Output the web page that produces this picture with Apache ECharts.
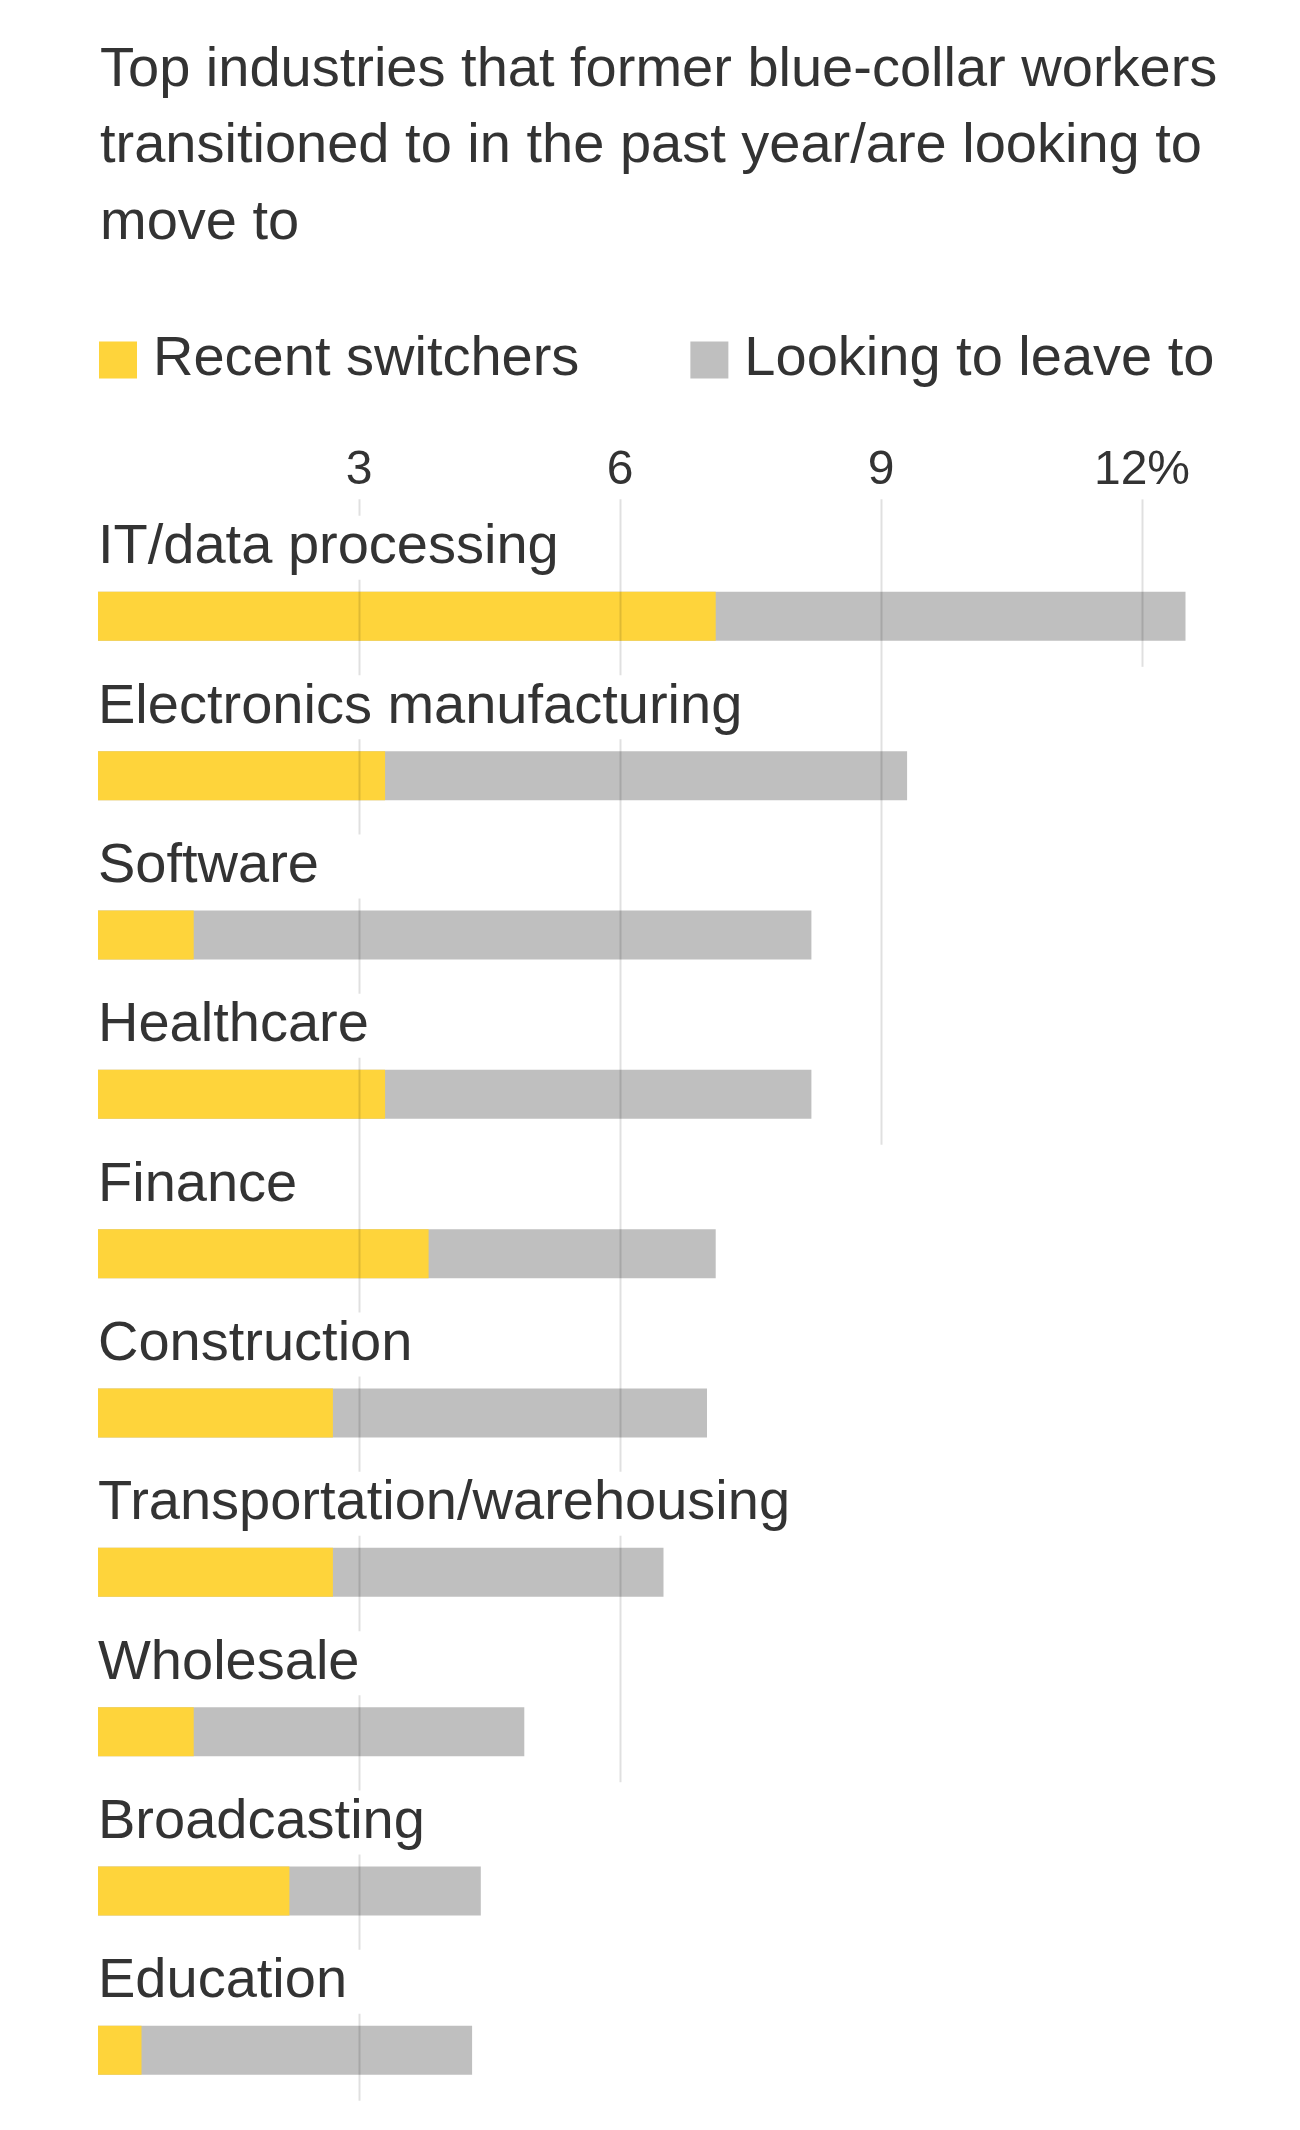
<!DOCTYPE html>
<html>
<head>
<meta charset="utf-8">
<script src="https://cdn.jsdelivr.net/npm/echarts@6/dist/echarts.min.js"></script>
<style>
  html, body { margin: 0; padding: 0; background: #ffffff; }
  #chart { width: 1300px; height: 2130px; }
</style>
</head>
<body>
<div id="chart"></div>
<script>
const titleText = 'Top industries that former blue-collar workers\ntransitioned to in the past year/are looking to\nmove to';
const categories = ['IT/data processing', 'Electronics manufacturing', 'Software', 'Healthcare', 'Finance',
  'Construction', 'Transportation/warehousing', 'Wholesale', 'Broadcasting', 'Education'];
const recentSwitchers = [7.1, 3.3, 1.1, 3.3, 3.8, 2.7, 2.7, 1.1, 2.2, 0.5];
const lookingToLeave = [12.5, 9.3, 8.2, 8.2, 7.1, 7.0, 6.5, 4.9, 4.4, 4.3];
const seriesNames = ['Recent switchers', 'Looking to leave to'];
const tickValues = [3, 6, 9, 12];
const tickLabels = ['3', '6', '9', '12%'];
// last category row each vertical gridline reaches down to
const gridlineLastRow = ['Education', 'Wholesale', 'Healthcare', 'IT/data processing'];

const FONT = '"Liberation Sans", Arial, sans-serif';
const YELLOW = '#fed43b';
const GRAY = '#bfbfbf';
const TEXT = '#333333';
const BAR_W = 49;

const chart = echarts.init(document.getElementById('chart'), null, { renderer: 'canvas' });

const gridlineData = tickValues.map((v, i) => [v, gridlineLastRow[i]]);

const option = {
  backgroundColor: '#ffffff',
  animation: false,
  textStyle: { fontFamily: FONT },
  title: {
    text: titleText,
    left: 95,
    top: 27,
    textStyle: { fontFamily: FONT, fontSize: 56, lineHeight: 76.7, fontWeight: 'normal', color: TEXT }
  },
  legend: {
    data: seriesNames,
    left: 94,
    top: 325,
    icon: 'rect',
    itemWidth: 38,
    itemHeight: 37,
    itemGap: 111,
    selectedMode: false,
    textStyle: { fontFamily: FONT, fontSize: 56, lineHeight: 60, color: TEXT, padding: [0, 0, 0, 11] }
  },
  grid: { left: 98, top: 536.7, width: 87 * 13, height: 1606, containLabel: false },
  xAxis: {
    type: 'value',
    position: 'top',
    min: 0,
    max: 13,
    interval: 3,
    axisLine: { show: false },
    axisTick: { show: false },
    splitLine: { show: false },
    axisLabel: {
      margin: 42,
      fontFamily: FONT,
      fontSize: 48,
      lineHeight: 48,
      color: TEXT,
      showMinLabel: false,
      showMaxLabel: false,
      formatter: function (v) {
        const idx = tickValues.indexOf(v);
        return idx >= 0 ? tickLabels[idx] : '';
      }
    }
  },
  yAxis: {
    type: 'category',
    data: categories,
    inverse: true,
    axisLine: { show: false },
    axisTick: { show: false },
    axisLabel: { show: false },
    splitLine: { show: false }
  },
  series: [
    {
      name: seriesNames[0],
      type: 'bar',
      data: recentSwitchers,
      barWidth: BAR_W,
      barGap: '-100%',
      itemStyle: { color: YELLOW },
      z: 3,
      silent: true
    },
    {
      name: seriesNames[1],
      type: 'bar',
      data: lookingToLeave,
      barWidth: BAR_W,
      barGap: '-100%',
      itemStyle: { color: GRAY },
      z: 2,
      silent: true
    },
    {
      name: 'gridlines',
      type: 'custom',
      data: gridlineData,
      encode: { x: 0, y: 1 },
      clip: false,
      z: 5,
      silent: true,
      renderItem: function (params, api) {
        const v = api.value(0);
        const endCat = gridlineData[params.dataIndex][1];
        const top = api.coord([v, categories[0]]);
        const end = api.coord([v, endCat]);
        const x = Math.round(top[0]) + 0.5;
        return {
          type: 'line',
          shape: { x1: x, y1: top[1] - 117, x2: x, y2: end[1] + BAR_W / 2 + 26 },
          style: { stroke: 'rgba(0,0,0,0.12)', lineWidth: 2 }
        };
      }
    },
    {
      name: 'labels',
      type: 'bar',
      data: lookingToLeave,
      barWidth: BAR_W,
      barGap: '-100%',
      itemStyle: { color: 'rgba(0,0,0,0)' },
      z: 10,
      silent: true,
      label: {
        show: true,
        position: [0, -44],
        align: 'left',
        verticalAlign: 'middle',
        formatter: '{b}',
        fontFamily: FONT,
        fontSize: 56,
        lineHeight: 64,
        color: TEXT,
        backgroundColor: '#ffffff',
        padding: [0, 50, 0, 0]
      }
    }
  ]
};

chart.setOption(option);
</script>
</body>
</html>
